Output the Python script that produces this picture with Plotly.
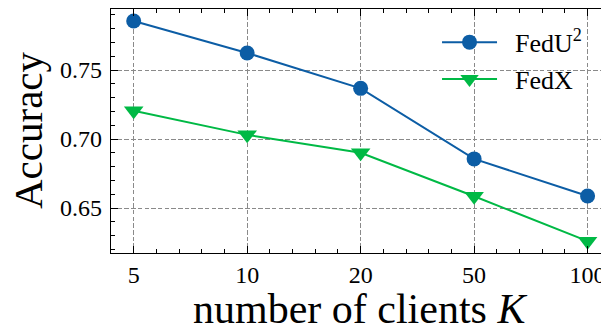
import plotly.graph_objects as go

categories = ["5", "10", "20", "50", "100"]
fedu2 = [0.7855, 0.7623, 0.7367, 0.6856, 0.6587]
fedx = [0.7205, 0.7030, 0.6900, 0.6585, 0.6260]
series_names = ["\u00a0\u00a0FedU<sup>2</sup>", "\u00a0\u00a0FedX"]
x_title = "number of clients <i>K</i>"
y_title = "Accuracy"

xpos = list(range(len(categories)))
FONT = "Liberation Serif"

fig = go.Figure()
fig.add_trace(go.Scatter(
    x=xpos, y=fedu2, mode="lines+markers", name=series_names[0],
    line=dict(color="#0C5DA5", width=2),
    marker=dict(symbol="circle", size=15, color="#0C5DA5"),
))
fig.add_trace(go.Scatter(
    x=xpos, y=fedx, mode="lines+markers", name=series_names[1],
    line=dict(color="#00B945", width=2),
    marker=dict(symbol="triangle-down", size=17, color="#00B945"),
))

axis_common = dict(
    showline=True, linecolor="black", linewidth=1.3, mirror="allticks",
    ticks="inside", ticklen=7, tickwidth=1, tickcolor="black",
    showgrid=True, gridcolor="#8a8a8a", griddash="4.5px,2.2px", gridwidth=1,
    zeroline=False,
    tickfont=dict(family=FONT, size=24, color="black"),
)

fig.update_xaxes(
    **axis_common,
    range=[-0.2, 4.18],
    tickmode="array", tickvals=xpos, ticktext=categories,
    minor=dict(ticks="inside", ticklen=4, dtick=0.2, tick0=0, tickcolor="black", showgrid=False),
)
fig.update_yaxes(
    **axis_common,
    range=[0.6174, 0.7942],
    tick0=0.65, dtick=0.05, tickformat=".2f",
    ticklabelstandoff=3,
    minor=dict(ticks="inside", ticklen=4, dtick=0.01, tick0=0.6, tickcolor="black", showgrid=False),
)

# axis titles placed as annotations for exact positioning
fig.add_annotation(
    text=x_title, xref="paper", yref="paper", x=0.5, y=-0.2295,
    xanchor="center", yanchor="middle", showarrow=False,
    font=dict(family=FONT, size=42, color="black"),
)
fig.add_annotation(
    text=y_title, xref="paper", yref="paper", x=-0.167, y=0.504,
    xanchor="center", yanchor="middle", showarrow=False, textangle=-90,
    font=dict(family=FONT, size=41, color="black"),
)

# the page body adds an 8px offset, so the figure is sized to fill the rest of the window
fig.update_layout(
    width=601, height=316,
    margin=dict(l=103, r=1, t=1, b=71, autoexpand=False),
    plot_bgcolor="white", paper_bgcolor="white",
    showlegend=True,
    legend=dict(
        x=0.656, y=0.96, xanchor="left", yanchor="top",
        bgcolor="rgba(0,0,0,0)", borderwidth=0,
        font=dict(family=FONT, size=26, color="black"),
        itemwidth=55, tracegroupgap=0,
    ),
)

fig.write_html("out.html")
